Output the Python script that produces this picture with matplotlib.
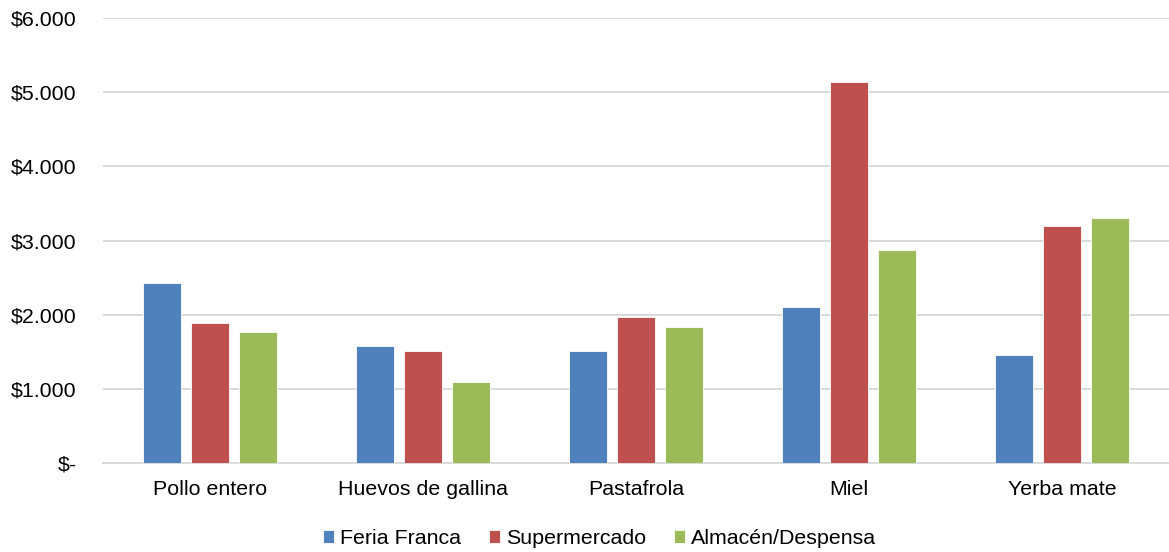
import matplotlib.pyplot as plt
import numpy as np
from matplotlib.ticker import FuncFormatter

plt.rcParams['font.family'] = ['Liberation Sans', 'DejaVu Sans']

categories = ['Pollo entero', 'Huevos de gallina', 'Pastafrola', 'Miel', 'Yerba mate']
series_names = ['Feria Franca', 'Supermercado', 'Almacén/Despensa']
feria = [2425, 1578, 1510, 2103, 1452]
super_ = [1888, 1510, 1970, 5135, 3195]
almacen = [1760, 1092, 1834, 2872, 3303]
colors = ['#4F81BD', '#C0504D', '#9BBB59']


def money(v, pos):
    if v == 0:
        return '$-'
    return '$' + f'{int(v):,}'.replace(',', '.')


fig = plt.figure(figsize=(11.69, 5.52), dpi=100)
ax = fig.add_axes([0.0881, 0.1612, 0.9119, 0.8062])

x = np.arange(len(categories))
step = 0.225
width = 0.178
for i, (vals, name) in enumerate(zip([feria, super_, almacen], series_names)):
    ax.bar(x + (i - 1) * step, vals, width, color=colors[i], label=name,
           edgecolor='white', linewidth=0.6, zorder=3)

ax.set_xlim(-0.5, len(categories) - 0.5)
ax.set_ylim(0, 6000)
ax.set_yticks(range(0, 6001, 1000))
ax.yaxis.set_major_formatter(FuncFormatter(money))
ax.set_xticks(x)
ax.set_xticklabels(categories)
ax.tick_params(axis='both', length=0, labelsize=15.4)
ax.tick_params(axis='y', pad=19)
ax.tick_params(axis='x', pad=12)
ax.grid(axis='y', color='#d9d9d9', linewidth=1.4, zorder=0)
for s in ['top', 'right', 'left']:
    ax.spines[s].set_visible(False)
ax.spines['bottom'].set_color('#d9d9d9')
ax.spines['bottom'].set_linewidth(1.4)

ax.legend(loc='center', bbox_to_anchor=(0.466, -0.17), ncol=3, frameon=False,
          fontsize=15.4, handlelength=0.5, handleheight=0.5, handletextpad=0.3,
          columnspacing=1.3)

fig.savefig('out.png', dpi=100)
